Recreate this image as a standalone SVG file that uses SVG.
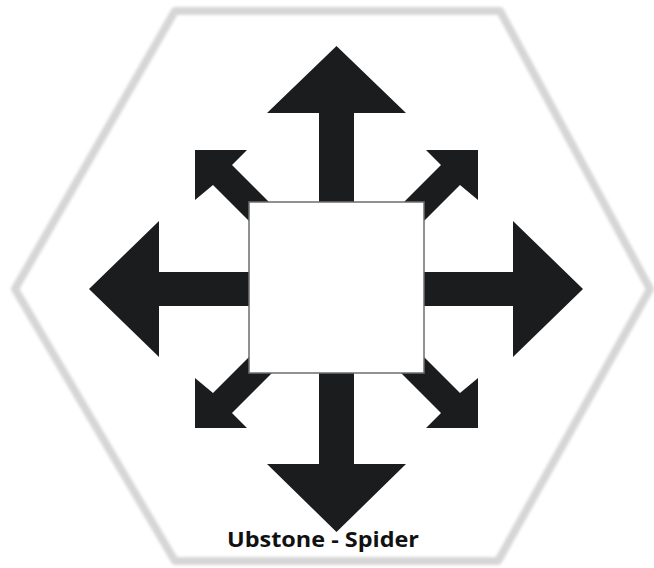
<svg xmlns="http://www.w3.org/2000/svg" width="654" height="568" viewBox="0 0 654 568">
  <defs>
    <filter id="soft" x="-5%" y="-5%" width="110%" height="110%">
      <feGaussianBlur stdDeviation="1.6"/>
    </filter>
    <style>
      .arrow { fill: #1b1c1e; }
      .hex { fill: #ffffff; stroke: #d6d6d6; stroke-width: 8; stroke-linejoin: round; }
      .box { fill: #ffffff; stroke: #6e6e6e; stroke-width: 1.5; }
      .label { font-family: "Open Sans", "Liberation Sans", sans-serif; font-weight: bold; font-size: 21.5px; fill: #111111; }
    </style>
  </defs>
  <rect width="654" height="568" fill="#ffffff"/>
  <g id="hexagon">
    <polygon class="hex" filter="url(#soft)" points="175,11 500,11 650,289 498,561 175,561 15,289"/>
  </g>
  <g id="connectors">
    <polygon id="arrow-up" class="arrow" points="319,289 319,113 267,113 336.5,46 406,113 354,113 354,289"/>
    <polygon id="arrow-down" class="arrow" points="319,289 319,464 267,464 336.5,532 406,464 354,464 354,289"/>
    <polygon id="arrow-left" class="arrow" points="336,272 159,272 159,221 89,289 159,357 159,306 336,306"/>
    <polygon id="arrow-right" class="arrow" points="336,272 513,272 513,221 583,289 513,357 513,306 336,306"/>
    <polygon id="arrow-ul" class="arrow" points="195,150 247,150 232,165 292,225 273,245 213,185 195,200"/>
    <polygon id="arrow-ur" class="arrow" points="478,150 426,150 441,165 381,225 400,245 460,185 478,200"/>
    <polygon id="arrow-dl" class="arrow" points="195,428 247,428 232,413 292,353 273,333 213,393 195,378"/>
    <polygon id="arrow-dr" class="arrow" points="478,428 426,428 441,413 381,353 400,333 460,393 478,378"/>
  </g>
  <g id="center">
    <rect class="box" x="249" y="202" width="175" height="171"/>
  </g>
  <g id="title">
    <text class="label" x="323" y="547" text-anchor="middle" textLength="192" lengthAdjust="spacingAndGlyphs">Ubstone - Spider</text>
  </g>
</svg>
